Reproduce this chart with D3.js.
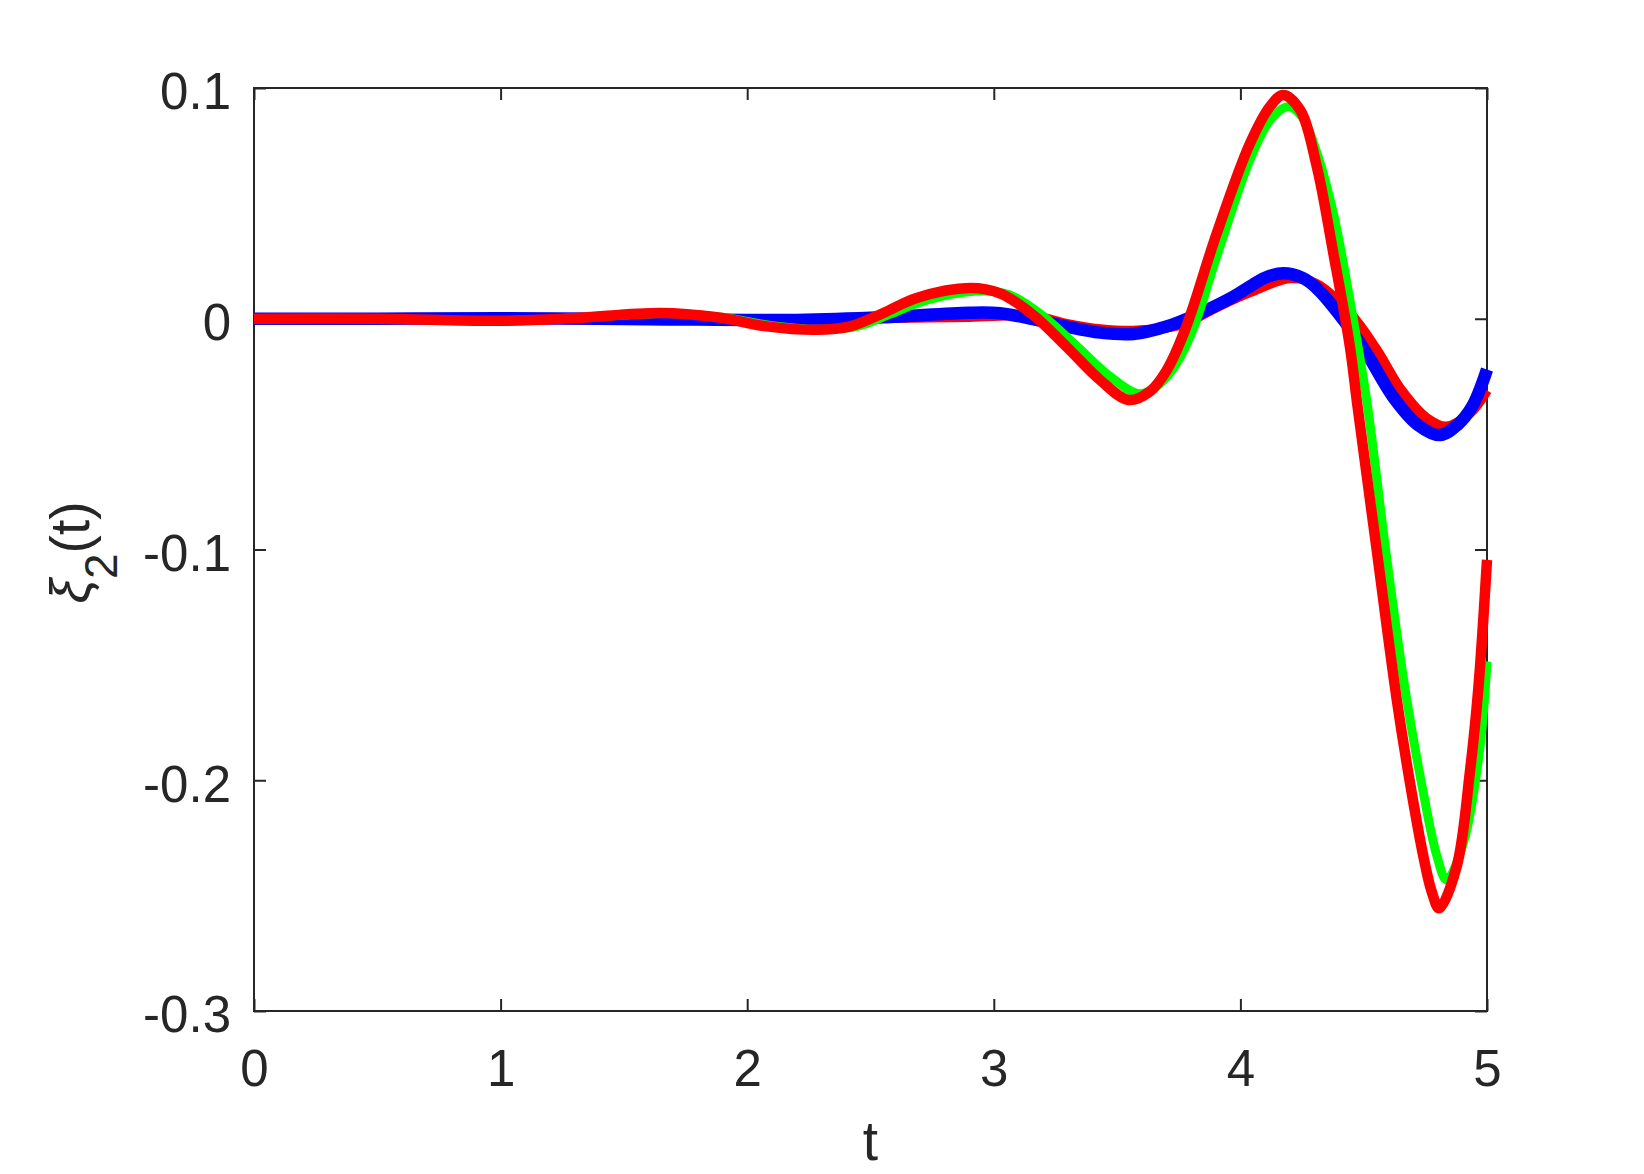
<!DOCTYPE html>
<html>
<head>
<meta charset="utf-8">
<script src="https://cdn.jsdelivr.net/npm/d3@7"></script>
<style>
  html, body { margin: 0; padding: 0; background: #fff; }
  svg { display: block; }
  text { font-family: "Liberation Sans", Arial, Helvetica, sans-serif; fill: #262626; }
</style>
</head>
<body>
<svg id="chart" width="1644" height="1174"></svg>
<script>
// ---- data ----
const xTicks = [0, 1, 2, 3, 4, 5];
const yTicks = [-0.3, -0.2, -0.1, 0, 0.1];
const xTickLabels = ["0", "1", "2", "3", "4", "5"];
const yTickLabels = ["-0.3", "-0.2", "-0.1", "0", "0.1"];

// red, small-amplitude response (drawn under blue)
const tRedSmall = [0, 0.5, 1.0, 1.6, 2.2, 2.55, 2.9, 3.16, 3.295, 3.431, 3.566, 3.70, 3.77, 3.904, 4.039, 4.2, 4.31, 4.444, 4.55, 4.653, 4.755, 4.836, 4.93, 5.0];
const redSmall  = [0, 0, -0.0003, 0.0003, -0.0003, 0.0003, 0.0008, 0.0012, -0.0022, -0.0045, -0.0052, -0.0038, -0.0022, 0.0050, 0.0115, 0.0175, 0.0150, 0.0024, -0.013, -0.031, -0.043, -0.0467, -0.041, -0.031];

// blue, small-amplitude response
const tBlue = [0, 0.5, 1.0, 1.6, 2.2, 2.55, 2.9, 3.025, 3.16, 3.295, 3.431, 3.566, 3.70, 3.836, 3.971, 4.039, 4.10, 4.174, 4.25, 4.31, 4.418, 4.512, 4.62, 4.72, 4.809, 4.88, 4.94, 5.0];
const blue  = [0, 0, 0.0002, -0.0002, -0.0005, 0.0006, 0.0026, 0.0024, -0.0002, -0.0034, -0.0060, -0.0066, -0.0034, 0.0024, 0.0095, 0.0140, 0.0178, 0.0197, 0.0178, 0.0132, -0.0005, -0.0150, -0.0340, -0.0460, -0.0504, -0.0460, -0.0380, -0.0220];

// green, large-amplitude response
const tGreen = [0, 0.5, 1.0, 1.3, 1.66, 1.9, 2.1, 2.3, 2.45, 2.58, 2.72, 2.93, 3.06, 3.195, 3.33, 3.466, 3.59, 3.67, 3.74, 3.81, 3.904, 4.039, 4.12, 4.195, 4.25, 4.31, 4.377, 4.444, 4.512, 4.59, 4.667, 4.742, 4.796, 4.836, 4.904, 4.97, 5.0];
const green  = [0, 0, -0.0008, 0.0003, 0.0023, 0.0007, -0.0030, -0.0046, -0.0032, 0.0020, 0.0078, 0.0120, 0.0105, 0.0016, -0.0112, -0.0245, -0.0325, -0.0285, -0.0195, -0.0040, 0.0270, 0.0690, 0.0860, 0.0920, 0.0875, 0.0720, 0.0457, 0.0081, -0.0352, -0.1010, -0.1600, -0.2055, -0.2325, -0.2432, -0.2273, -0.1869, -0.1485];

// red, large-amplitude response (drawn on top)
const tRedLarge = [0, 0.5, 1.0, 1.3, 1.646, 1.876, 2.079, 2.28, 2.417, 2.552, 2.687, 2.903, 3.025, 3.16, 3.295, 3.431, 3.546, 3.633, 3.70, 3.775, 3.904, 4.039, 4.12, 4.174, 4.242, 4.31, 4.377, 4.444, 4.475, 4.55, 4.634, 4.688, 4.742, 4.775, 4.806, 4.877, 4.931, 4.965, 5.0];
const redLarge  = [0, 0, -0.0009, 0.0003, 0.0025, 0.0007, -0.0033, -0.0048, -0.0033, 0.0025, 0.0090, 0.0133, 0.0110, 0.0016, -0.0121, -0.0265, -0.0352, -0.0315, -0.0225, -0.0050, 0.0370, 0.0760, 0.0920, 0.0970, 0.0905, 0.0659, 0.0283, -0.0121, -0.0380, -0.0980, -0.1650, -0.2013, -0.2330, -0.2480, -0.2555, -0.2374, -0.1960, -0.1600, -0.1045];

// ---- drawing ----
const svg = d3.select("#chart");
const L = 254, R = 1487, T = 88, B = 1011;
const axisColor = "#262626";

const x = d3.scaleLinear().domain([0, 5]).range([L, R]);
const y = d3.scaleLinear().domain([-0.3, 0.1]).range([B, T]);

const series = [
  { t: tRedSmall, v: redSmall, color: "#ff0000", width: 10 },
  { t: tBlue, v: blue, color: "#0000ff", width: 12.5 },
  { t: tGreen, v: green, color: "#00ff00", width: 9 },
  { t: tRedLarge, v: redLarge, color: "#ff0000", width: 10.5 }
];

const line = d3.line()
  .x(d => x(d[0]))
  .y(d => y(d[1]))
  .curve(d3.curveCatmullRom.alpha(0.5));

// axes box and ticks
const tickLen = 12;
const fontSize = 51;

const gB = svg.append("g").attr("transform", `translate(0,${B})`)
  .call(d3.axisBottom(x).tickValues(xTicks).tickFormat((d, i) => xTickLabels[i]).tickSizeInner(-tickLen).tickSizeOuter(0));
gB.selectAll("text").attr("y", 75).attr("dy", 0).style("font-size", fontSize + "px");

const gT = svg.append("g").attr("transform", `translate(0,${T})`)
  .call(d3.axisTop(x).tickValues(xTicks).tickFormat("").tickSizeInner(-tickLen).tickSizeOuter(0));

const gL = svg.append("g").attr("transform", `translate(${L},0)`)
  .call(d3.axisLeft(y).tickValues(yTicks).tickFormat((d, i) => yTickLabels[i]).tickSizeInner(-tickLen).tickSizeOuter(0));
gL.selectAll("text").attr("x", -23).attr("dy", "0.41em").style("font-size", fontSize + "px");

const gR = svg.append("g").attr("transform", `translate(${R},0)`)
  .call(d3.axisRight(y).tickValues(yTicks).tickFormat("").tickSizeInner(-tickLen).tickSizeOuter(0));

[gB, gT, gL, gR].forEach(g => {
  g.select(".domain").remove();
  g.selectAll("line").attr("stroke", axisColor).attr("stroke-width", 2);
  g.selectAll("text").attr("fill", axisColor).attr("font-family", null);
});

svg.append("rect")
  .attr("x", L).attr("y", T).attr("width", R - L).attr("height", B - T)
  .attr("fill", "none").attr("stroke", axisColor).attr("stroke-width", 2);

// data lines
svg.append("g").selectAll("path")
  .data(series)
  .join("path")
  .attr("d", s => line(s.t.map((tt, i) => [tt, s.v[i]])))
  .attr("fill", "none")
  .attr("stroke", s => s.color)
  .attr("stroke-width", s => s.width)
  .attr("stroke-linejoin", "round")
  .attr("stroke-linecap", "butt");

// axis labels
svg.append("text")
  .attr("x", (L + R) / 2).attr("y", 1160)
  .attr("text-anchor", "middle")
  .style("font-size", "55px")
  .text("t");

const yl = svg.append("text")
  .attr("transform", `translate(89,${(T + B) / 2 + 3}) rotate(-90)`)
  .attr("text-anchor", "middle")
  .style("font-size", "55px");
yl.append("tspan").text("ξ").style("font-style", "italic");
yl.append("tspan").attr("dy", 28).style("font-size", "46px").text("2");
yl.append("tspan").attr("dy", -28).text("(t)");
</script>
</body>
</html>
